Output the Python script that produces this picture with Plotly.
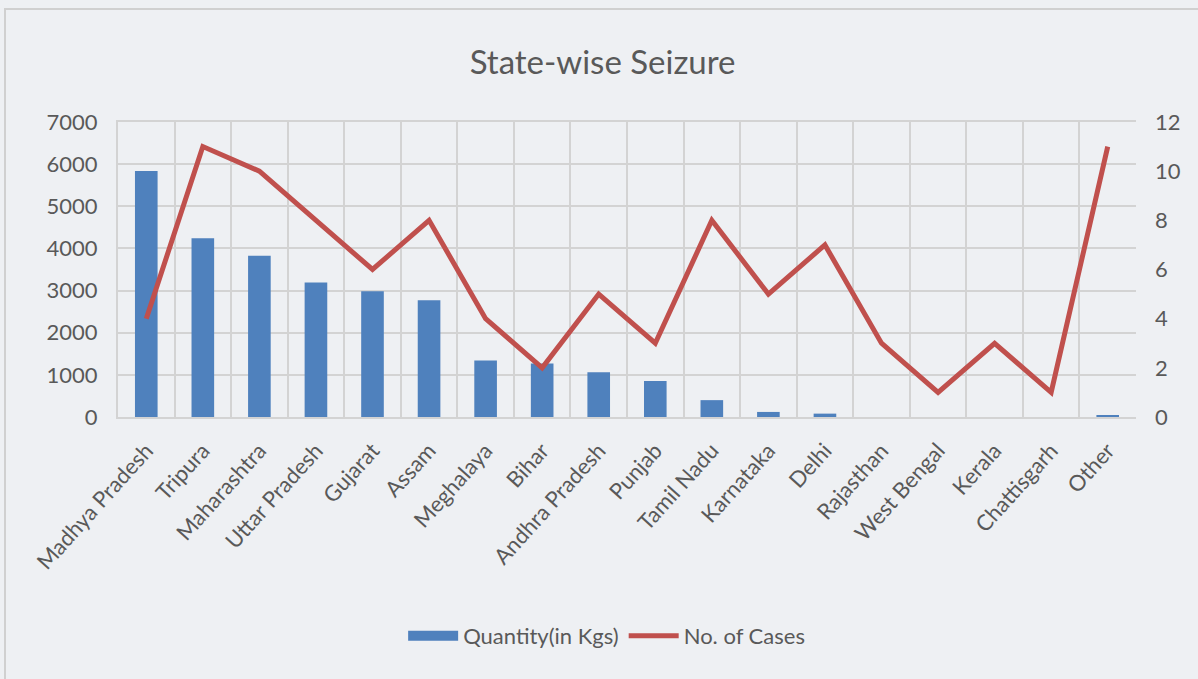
import plotly.graph_objects as go

states = ["Madhya Pradesh", "Tripura", "Maharashtra", "Uttar Pradesh", "Gujarat",
          "Assam", "Meghalaya", "Bihar", "Andhra Pradesh", "Punjab", "Tamil Nadu",
          "Karnataka", "Delhi", "Rajasthan", "West Bengal", "Kerala", "Chattisgarh",
          "Other"]
quantity_kgs = [5840, 4240, 3825, 3190, 2985, 2770, 1340, 1270, 1060, 855, 400,
                120, 80, 0, 0, 0, 0, 40]
num_cases = [4, 11, 10, 8, 6, 8, 4, 2, 5, 3, 8, 5, 7, 3, 1, 3, 1, 11]

left_ticks = [0, 1000, 2000, 3000, 4000, 5000, 6000, 7000]
right_ticks = [0, 2, 4, 6, 8, 10, 12]

FONT = "Lato"
TEXT = "#595959"
GRID = "#d3d3d3"
BG = "#eef0f3"
BLUE = "#4f81bd"
RED = "#c0504d"

fig = go.Figure()
fig.add_trace(go.Bar(
    x=states, y=quantity_kgs, name="Quantity(in Kgs)", legendgroup="qty",
    showlegend=False, marker=dict(color=BLUE, line=dict(width=0)),
))
# wide blue swatch for the bar series legend entry
fig.add_trace(go.Scatter(
    x=[None], y=[None], name="Quantity(in Kgs)", legendgroup="qty",
    mode="lines", line=dict(color=BLUE, width=14),
))
fig.add_trace(go.Scatter(
    x=states, y=num_cases, name="No. of Cases", yaxis="y2",
    mode="lines", line=dict(color=RED, width=5),
))

fig.update_layout(
    width=1198, height=679,
    margin=dict(l=118, r=62, t=122, b=262),
    paper_bgcolor=BG, plot_bgcolor=BG,
    font=dict(family=FONT, color=TEXT, size=22),
    title=dict(text="State-wise Seizure", x=0.503, xref="container",
               y=1 - 62 / 679, yref="container", xanchor="center", yanchor="middle",
               font=dict(family=FONT, size=33, color=TEXT)),
    bargap=0.6,
    showlegend=True,
    legend=dict(orientation="h", x=0.480, xanchor="center", y=-0.742, yanchor="middle",
                font=dict(size=22, color=TEXT), bgcolor="rgba(0,0,0,0)",
                itemwidth=50, traceorder="normal"),
    xaxis=dict(type="category", tickson="boundaries", showgrid=True, gridcolor=GRID,
               gridwidth=2, tickangle=-48, ticks="", showline=True, linecolor=GRID,
               linewidth=2, mirror=True, tickfont=dict(size=22, color=TEXT),
               ticklabelstandoff=10),
    yaxis=dict(range=[0, 7000], tickvals=left_ticks, showgrid=True, gridcolor=GRID,
               gridwidth=2, zeroline=False, showline=True, linecolor=GRID, linewidth=2,
               ticks="", tickfont=dict(size=22, color=TEXT), ticklabelstandoff=14),
    yaxis2=dict(range=[0, 12], tickvals=right_ticks, overlaying="y", side="right",
                showgrid=False, zeroline=False, showline=False, ticks="",
                tickfont=dict(size=22, color=TEXT), ticklabelstandoff=18),
    shapes=[dict(type="rect", xref="paper", yref="paper",
                 x0=(5 - 118) / 1018, x1=(1240 - 118) / 1018,
                 y0=(417 - 720) / 295, y1=(417 - 9) / 295,
                 line=dict(color="#d0d0d0", width=2), fillcolor="rgba(0,0,0,0)",
                 layer="below")],
)

fig.write_html("out.html")
